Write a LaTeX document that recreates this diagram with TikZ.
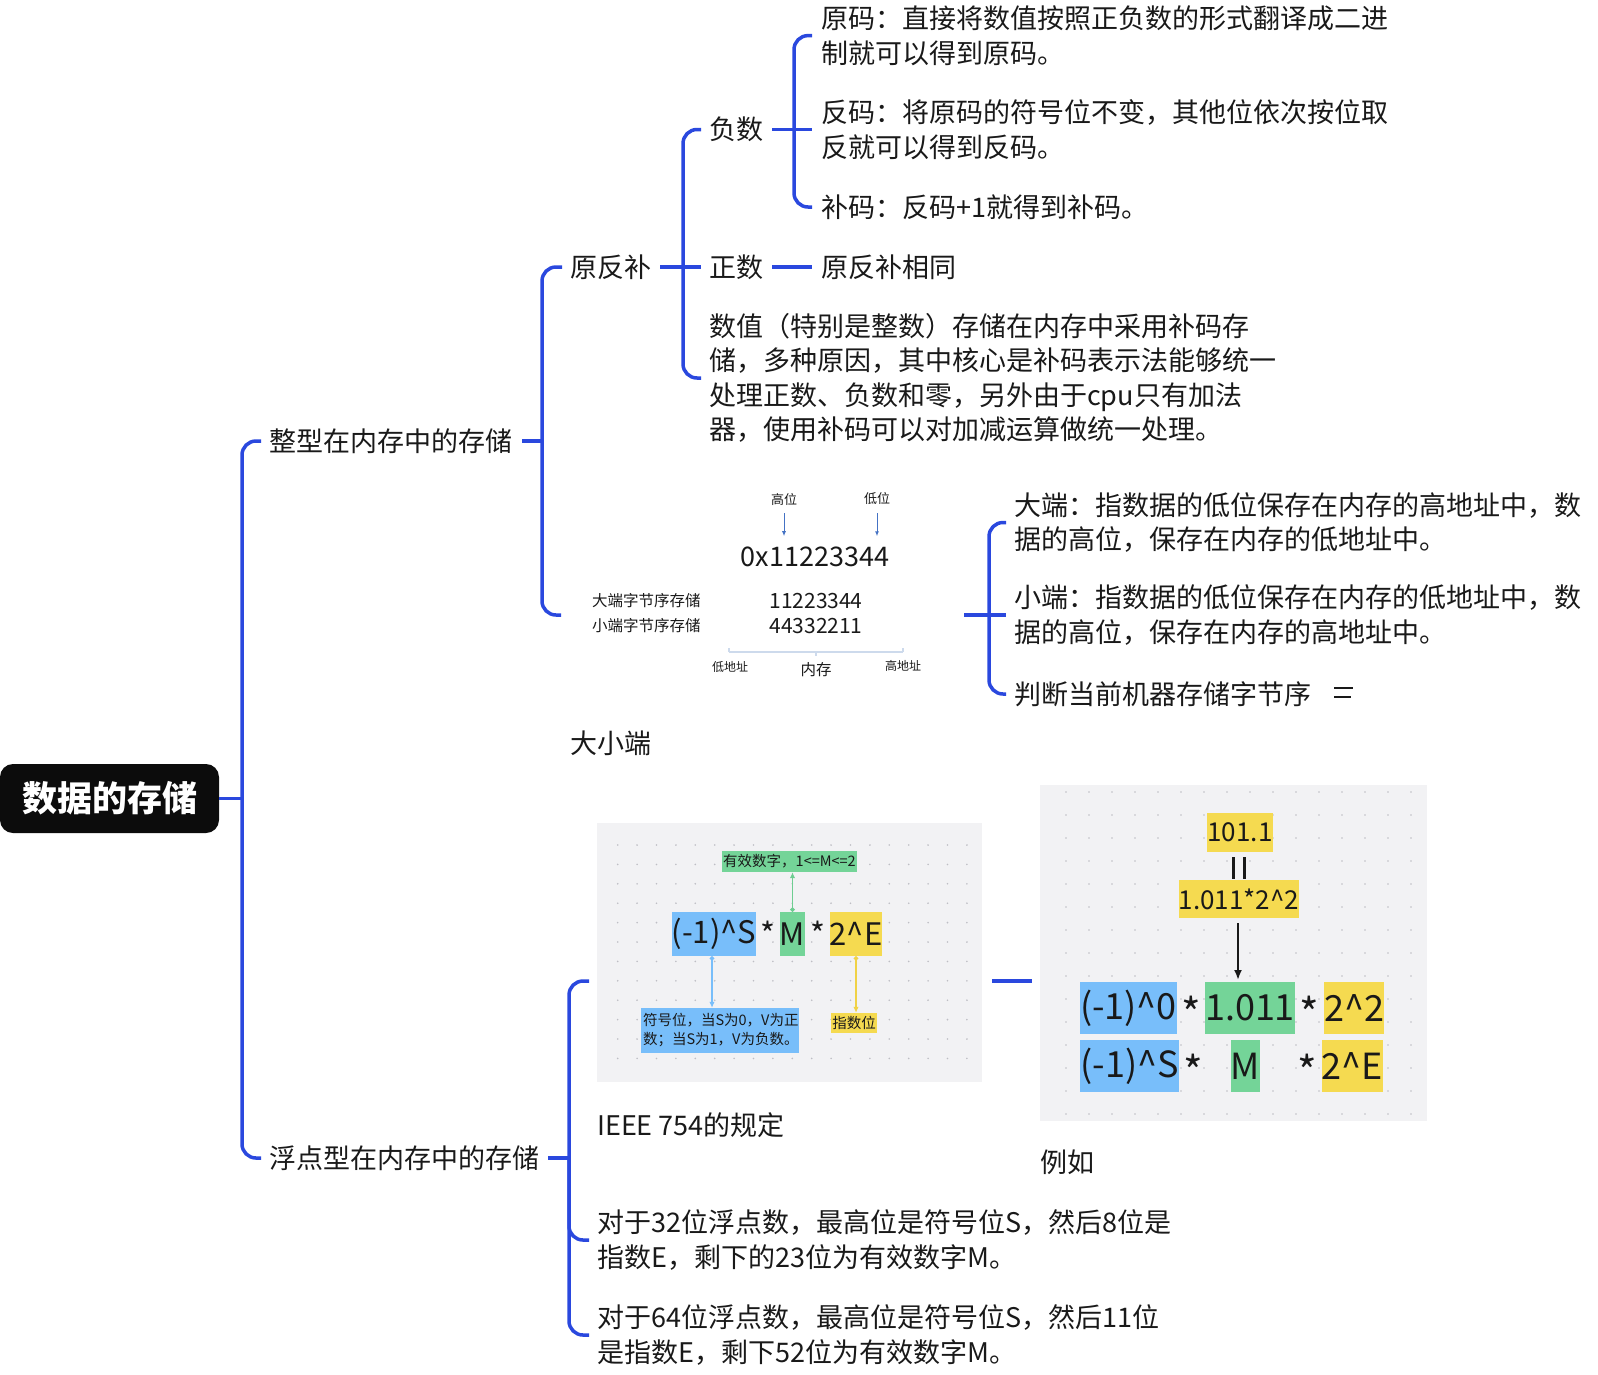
\documentclass[tikz,border=0pt]{standalone}
\usepackage{fontspec}
\setmainfont{Noto Sans CJK SC}
\usetikzlibrary{arrows.meta}
\definecolor{brblue}{RGB}{42,72,222}
\definecolor{txtc}{RGB}{25,25,25}
\definecolor{rootbg}{RGB}{12,12,12}
\definecolor{bxblue}{RGB}{120,190,250}
\definecolor{bxgreen}{RGB}{116,212,152}
\definecolor{bxyellow}{RGB}{245,218,80}
\definecolor{imgbg}{RGB}{242,242,244}
\definecolor{dotc}{RGB}{190,190,196}
\definecolor{arrblue}{RGB}{68,114,196}
\definecolor{memline}{RGB}{205,218,236}
\definecolor{arrgreen}{RGB}{110,205,145}
\definecolor{arryellow}{RGB}{240,210,70}
\begin{document}
\begin{tikzpicture}[x=1pt,y=-1pt,
  br/.style={draw=brblue,line width=3.5pt},
  rnd/.style={rounded corners=14pt},
  txt/.style={inner sep=0pt,anchor=west,text=txtc,align=left,font=\fontsize{27}{34.5}\selectfont},
  rootnode/.style={fill=rootbg,rounded corners=13pt,minimum width=219pt,minimum height=69pt,inner sep=0pt,text=white,font=\fontsize{35}{40}\selectfont\bfseries},
  small/.style={inner sep=0pt,text=txtc,font=\fontsize{13}{15}\selectfont},
  mid/.style={inner sep=0pt,text=txtc,font=\fontsize{15.5}{18}\selectfont},
  bx/.style={inner sep=0pt,text=txtc},
  star/.style={inner sep=0pt,text=txtc,font=\fontsize{32}{36}\selectfont},
  bigstar/.style={inner sep=0pt,text=txtc,font=\fontsize{42}{46}\selectfont},
  sarrow/.style={draw=arrblue,line width=1pt,-{Latex[length=5pt,width=4pt]}},
  dotarrow/.style={line width=1.3pt,{Circle[length=4.5pt]}-{Latex[length=6pt,width=5.5pt]}}
]
\useasboundingbox (0,0) rectangle (1598,1374);

% ---------- root and first level ----------
\node[rootnode] (root) at (109.5,798.5) {数据的存储};
\coordinate (T0) at (242,798.5);
\node[txt] (int) at (269,441) {整型在内存中的存储};
\node[txt] (flt) at (269,1158) {浮点型在内存中的存储};
\draw[br] (root.east) -- (T0);
\draw[br,rnd] ([xshift=-8pt]int.west) -| (T0) |- ([xshift=-8pt]flt.west);

% ---------- integer subtree ----------
\coordinate (T1) at (542,441);
\node[txt] (yfb) at (570,267) {原反补};
\coordinate (endL) at (561,615);
\draw[br] ([xshift=10pt]int.east) -- (T1);
\draw[br,rnd] ([xshift=-8pt]yfb.west) -| (T1) |- (endL);

\coordinate (T2) at (683,267);
\node[txt] (fs) at (709,129.5) {负数};
\node[txt] (zs) at (709,267) {正数};
\node[txt] (note1) at (709,378) {数值（特别是整数）存储在内存中采用补码存\\储，多种原因，其中核心是补码表示法能够统一\\处理正数、负数和零，另外由于cpu只有加法\\器，使用补码可以对加减运算做统一处理。};
\draw[br] ([xshift=9pt]yfb.east) -- ([xshift=-8pt]zs.west);
\draw[br,rnd] ([xshift=-8pt]fs.west) -| (T2) |- ([xshift=-8pt]note1.west);

\coordinate (T3) at (794,129.5);
\node[txt] (ym) at (821,35.6) {原码：直接将数值按照正负数的形式翻译成二进\\制就可以得到原码。};
\node[txt] (fm) at (821,129.5) {反码：将原码的符号位不变，其他位依次按位取\\反就可以得到反码。};
\node[txt] (bm) at (821,207) {补码：反码+1就得到补码。};
\draw[br] ([xshift=9pt]fs.east) -- ([xshift=-9pt]fm.west);
\draw[br,rnd] ([xshift=-9pt]ym.west) -| (T3) |- ([xshift=-9pt]bm.west);
\node[txt] (same) at (821,267) {原反补相同};
\draw[br] ([xshift=9pt]zs.east) -- ([xshift=-9pt]same.west);

% ---------- endian picture ----------
\node[small] (hi) at (784,499) {高位};
\node[small] (lo) at (877,499) {低位};
\node[inner sep=0pt,text=txtc,font=\fontsize{27}{30}\selectfont] (hex) at (815,557) {0x11223344};
\draw[sarrow] (hi.south) ++(0,8) -- ++(0,23);
\draw[sarrow] (lo.south) ++(0,8) -- ++(0,23);
\node[mid,anchor=west] (bigl) at (592,601) {大端字节序存储};
\node[mid,anchor=west] (litl) at (592,626) {小端字节序存储};
\node[inner sep=0pt,text=txtc,font=\fontsize{21}{24}\selectfont] (bigv) at (816,601) {11223344};
\node[inner sep=0pt,text=txtc,font=\fontsize{21}{24}\selectfont] (litv) at (816,626) {44332211};
\coordinate (memA) at (729,652);
\coordinate (memB) at (903,652);
\draw[memline,line width=1.2pt] (memA) -- (memB);
\draw[memline,line width=1.2pt] (memA) -- ++(0,-4) (memB) -- ++(0,-4) (816,652) -- ++(0,4);
\node[small,font=\fontsize{12}{14}\selectfont] (loaddr) at (730,667) {低地址};
\node[mid] (mem) at (816,670) {内存};
\node[small,font=\fontsize{12}{14}\selectfont] (hiaddr) at (903,666) {高地址};
\node[txt] (endcap) at (570,743) {大小端};

\coordinate (endR) at (964,615);
\coordinate (T4) at (989,615);
\node[txt] (big) at (1014,522.5) {大端：指数据的低位保存在内存的高地址中，数\\据的高位，保存在内存的低地址中。};
\node[txt] (little) at (1014,615) {小端：指数据的低位保存在内存的低地址中，数\\据的高位，保存在内存的高地址中。};
\node[txt] (judge) at (1014,694) {判断当前机器存储字节序};
\draw[br] (endR) -- ([xshift=-8pt]little.west);
\draw[br,rnd] ([xshift=-8pt]big.west) -| (T4) |- ([xshift=-8pt]judge.west);
\draw[txtc,line width=1.4pt] (1334,688) -- (1353,688) (1334,697) -- (1351,697);

% ---------- float subtree ----------
\coordinate (T5) at (569,1158);
\coordinate (ieeeL) at (589,981);
\node[txt] (c32) at (597,1240) {对于32位浮点数，最高位是符号位S，然后8位是\\指数E，剩下的23位为有效数字M。};
\node[txt] (c64) at (597,1335) {对于64位浮点数，最高位是符号位S，然后11位\\是指数E，剩下52位为有效数字M。};
\draw[br] ([xshift=9pt]flt.east) -- (T5);
\draw[br,rnd] (ieeeL) -| (T5) |- ([xshift=-8pt]c64.west);
\draw[br,rnd] (T5) |- ([xshift=-8pt]c32.west);

% IEEE picture
\fill[imgbg] (597,823) rectangle (982,1082);
\foreach \i in {0,...,18} \foreach \j in {0,...,11}
  \fill[dotc] (617.7+19.4*\i,845+19.4*\j) circle (0.9pt);
\node[bx,fill=bxgreen,minimum width=135pt,minimum height=21pt,font=\fontsize{14.5}{17}\selectfont] (mlab) at (789.5,861.5) {有效数字，1<=M<=2};
\node[bx,fill=bxblue,minimum width=80pt,minimum height=44pt,font=\fontsize{31}{34}\selectfont] (sbox) at (714,934) {(-1)\^{}S};
\node[star] (st1) at (768,934) {*};
\node[bx,fill=bxgreen,minimum width=23pt,minimum height=44pt,font=\fontsize{31}{34}\selectfont] (mbox) at (792.5,934) {M};
\node[star] (st2) at (818,934) {*};
\node[bx,fill=bxyellow,minimum width=50pt,minimum height=44pt,font=\fontsize{31}{34}\selectfont] (ebox) at (856,934) {2\^{}E};
\node[bx,fill=bxblue,minimum width=158pt,minimum height=45pt,align=left,text width=154pt,font=\fontsize{14.5}{19}\selectfont] (slab) at (720,1030.5) {符号位，当S为0，V为正\\数；当S为1，V为负数。};
\node[bx,fill=bxyellow,minimum width=46pt,minimum height=20pt,font=\fontsize{14.5}{17}\selectfont] (elab) at (854,1023) {指数位};
\draw[dotarrow,arrgreen] (mbox.north) -- (mlab.south -| mbox.north);
\draw[dotarrow,bxblue] ([xshift=-2pt]sbox.south) -- ([xshift=-2pt]sbox.south |- slab.north);
\draw[dotarrow,arryellow] (ebox.south) -- (ebox.south |- elab.north);
\node[txt] (ieeecap) at (597,1125) {IEEE 754的规定};

% connector to example
\coordinate (ieeeR) at (992,981);
\coordinate (exL) at (1032,981);
\draw[br] (ieeeR) -- (exL);

% example picture
\fill[imgbg] (1040,785) rectangle (1427,1121);
\foreach \i in {0,...,15} \foreach \j in {0,...,14}
  \fill[dotc] (1066+23*\i,792+23*\j) circle (0.9pt);
\node[bx,fill=bxyellow,minimum width=66pt,minimum height=39pt,font=\fontsize{26}{30}\selectfont] (v1) at (1240,832.5) {101.1};
\node[bx,fill=bxyellow,minimum width=120pt,minimum height=38pt,font=\fontsize{26}{30}\selectfont] (v2) at (1239,899) {1.011*2\^{}2};
\coordinate (eqA1) at (1233.5,857);
\coordinate (eqA2) at (1233.5,879);
\coordinate (eqB1) at (1244.5,857);
\coordinate (eqB2) at (1244.5,879);
\draw[txtc,line width=3pt] (eqA1) -- (eqA2);
\draw[txtc,line width=3pt] (eqB1) -- (eqB2);
\node[bx,fill=bxblue,minimum width=93pt,minimum height=52pt,font=\fontsize{36}{40}\selectfont] (r1a) at (1128.5,1008) {(-1)\^{}0};
\node[bigstar] (r1s1) at (1191,1013) {*};
\node[bx,fill=bxgreen,minimum width=86pt,minimum height=52pt,font=\fontsize{36}{40}\selectfont] (r1b) at (1250,1008) {1.011};
\node[bigstar] (r1s2) at (1309,1013) {*};
\node[bx,fill=bxyellow,minimum width=58pt,minimum height=52pt,font=\fontsize{36}{40}\selectfont] (r1c) at (1354,1008) {2\^{}2};
\node[bx,fill=bxblue,minimum width=95pt,minimum height=52pt,font=\fontsize{36}{40}\selectfont] (r2a) at (1129.5,1066) {(-1)\^{}S};
\node[bigstar] (r2s1) at (1193,1071) {*};
\node[bx,fill=bxgreen,minimum width=27pt,minimum height=52pt,font=\fontsize{36}{40}\selectfont] (r2b) at (1245.5,1066) {M};
\node[bigstar] (r2s2) at (1307,1071) {*};
\node[bx,fill=bxyellow,minimum width=59pt,minimum height=52pt,font=\fontsize{36}{40}\selectfont] (r2c) at (1352.5,1066) {2\^{}E};
\coordinate (arrTop) at (1238,923);
\coordinate (arrBot) at (1238,980);
\draw[txtc,line width=2.6pt,-{Latex[length=10pt,width=8pt]}] (arrTop) -- (arrBot);
\node[txt] (excap) at (1040,1162) {例如};
\end{tikzpicture}
\end{document}
